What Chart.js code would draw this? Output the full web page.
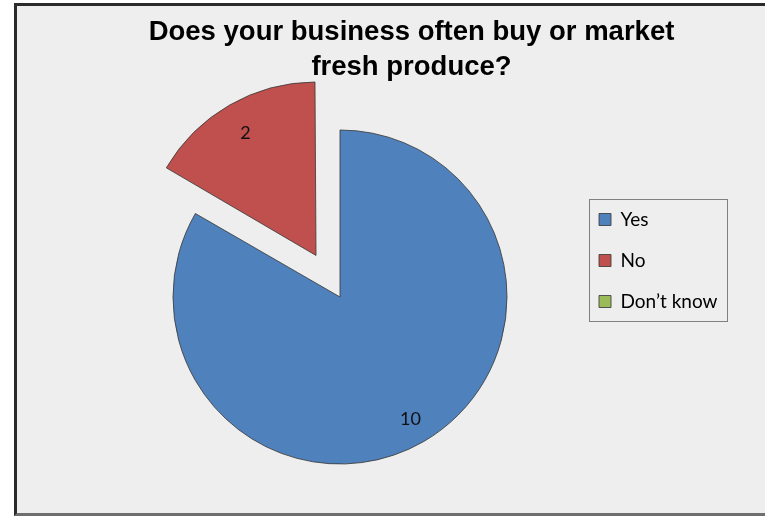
<!DOCTYPE html>
<html>
<head>
<meta charset="utf-8">
<script src="https://cdn.jsdelivr.net/npm/chart.js@4/dist/chart.umd.min.js"></script>
<style>
    html, body { margin: 0; padding: 0; background: #fff; overflow: hidden; }
    .chart-frame {
        position: absolute;
        left: 14px;
        top: 3px;
        width: 780px;
        height: 507px;
        background: #eeeeee;
        border-top: 3px solid #2b2b2b;
        border-left: 3px solid #2b2b2b;
        border-bottom: 3px solid #6e6e6e;
    }
    #pie_graph { display: block; }
</style>
</head>
<body>
<div class="chart-frame">
    <canvas id="pie_graph" width="763" height="507"></canvas>
</div>
<script>
let titleLines = ["Does your business often buy or market", "fresh produce?"]
let answers = ["Yes", "No", "Don\u2019t know"]
let counts = [10, 2, 0]
let sliceColors = ["#4f81bd", "#c0504d", "#9bbb59"]
let sliceOffsets = [0, 192, 0]

//box round the legend
let legendBorder = {
    id: "legendBorder",
    afterDraw(chart) {
        let legend = chart.legend
        let boxes = legend.legendHitBoxes
        if (!boxes || !boxes.length) return
        let first = boxes[0]
        let last = boxes[boxes.length - 1]
        let left = first.left - 10
        let top = first.top + first.height / 2 - 21
        let bottom = last.top + last.height / 2 + 19
        let ctx = chart.ctx
        ctx.save()
        ctx.strokeStyle = "#808080"
        ctx.lineWidth = 1
        ctx.strokeRect(Math.round(left) + 0.5, Math.round(top) + 0.5, 138, Math.round(bottom - top))
        ctx.restore()
    }
}

//value written inside each slice
let sliceValues = {
    id: "sliceValues",
    afterDatasetsDraw(chart) {
        let ctx = chart.ctx
        let meta = chart.getDatasetMeta(0)
        ctx.save()
        ctx.font = "18px Lato, 'Open Sans', sans-serif"
        ctx.fillStyle = "#111"
        ctx.textAlign = "center"
        ctx.textBaseline = "middle"
        meta.data.forEach((arc, i) => {
            let value = chart.data.datasets[0].data[i]
            if (!value) return
            let mid = (arc.startAngle + arc.endAngle) / 2
            let shift = (arc.options.offset || 0) / 4
            let dist = shift + arc.outerRadius * 0.845
            ctx.fillText(String(value), arc.x + Math.cos(mid) * dist, arc.y + Math.sin(mid) * dist)
        })
        ctx.restore()
    }
}

new Chart("pie_graph", {
    type: "pie",
    data: {
        labels: answers,
        datasets: [{
            data: counts,
            backgroundColor: sliceColors,
            borderColor: "rgba(60, 60, 60, 0.85)",
            borderWidth: 1,
            offset: sliceOffsets
        }]
    },
    options: {
        responsive: false,
        animation: false,
        radius: 167,
        layout: {
            padding: { left: 86, right: 60, top: 0, bottom: 107 }
        },
        plugins: {
            title: {
                display: true,
                text: titleLines,
                color: "#000",
                font: { family: "'Liberation Sans', Arial, sans-serif", size: 27.5, weight: "bold", lineHeight: "35px" },
                padding: { top: 9, bottom: 103 }
            },
            legend: {
                position: "right",
                align: "start",
                fullSize: false,
                maxWidth: 143,
                labels: {
                    color: "#000",
                    boxWidth: 12,
                    boxHeight: 12,
                    padding: 22,
                    font: { family: "Lato, 'Open Sans', sans-serif", size: 19 }
                }
            },
            tooltip: { enabled: false }
        }
    },
    plugins: [legendBorder, sliceValues]
})
</script>
</body>
</html>
